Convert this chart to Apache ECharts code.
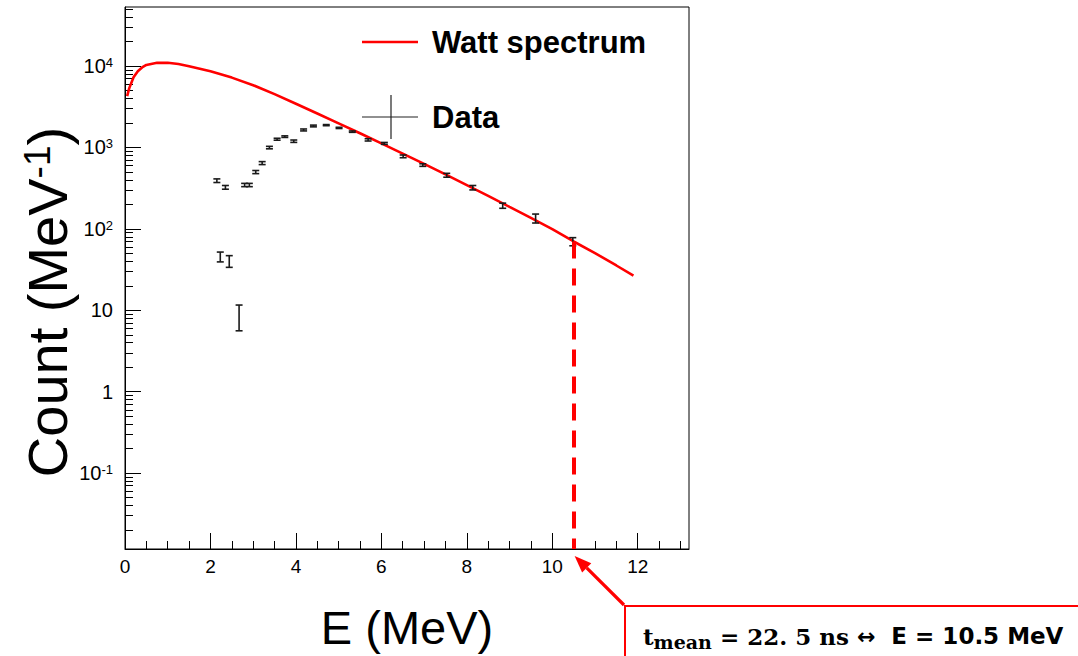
<!DOCTYPE html>
<html>
<head>
<meta charset="utf-8">
<script src="https://cdn.jsdelivr.net/npm/echarts@6/dist/echarts.min.js"></script>
<style>
  html, body { margin: 0; padding: 0; background: #ffffff; }
  #chart { width: 1078px; height: 656px; }
</style>
</head>
<body>
<div id="chart"></div>
<script>
// Watt fission spectrum (counts per MeV) sampled along the curve
const wattEnergy = [0.05, 0.1, 0.2, 0.3, 0.4, 0.5, 0.75, 1.0, 1.25, 1.5, 2.0, 2.5, 3.0, 3.5, 4.0, 4.5,
  5.0, 5.5, 6.0, 6.5, 7.0, 7.5, 8.0, 8.5, 9.0, 9.5, 10.0, 10.5, 11.0, 11.5, 11.9];
const wattCount = [4280, 5350, 7300, 8640, 9600, 10300, 10950, 10950, 10570, 9950, 8630, 7210, 5820, 4520, 3440, 2610,
  1977, 1493, 1122, 841, 628, 467, 345, 254, 186, 136.5, 99.5, 70, 50.4, 35.5, 26.6];

// Measured spectrum: energy (MeV), counts per MeV and 1-sigma error
const dataEnergy = [2.15, 2.35, 2.80, 2.91, 3.06, 3.21, 3.38, 3.56, 3.74, 3.95, 4.18, 4.41, 4.71, 5.01, 5.32, 5.69,
  6.07, 6.51, 6.97, 7.53, 8.14, 8.84, 9.61, 10.48, 2.23, 2.44, 2.67];
const dataCount = [391, 324, 346, 346, 499, 643, 997, 1262, 1358, 1194, 1641, 1836, 1880, 1738, 1564, 1240,
  1122, 778, 608, 456, 321, 193, 135, 70, 45.6, 40.3, 8.6];
const dataError = [20, 17, 16, 16, 22, 27, 35, 35, 30, 40, 45, 45, 30, 30, 30, 40,
  30, 30, 22, 25, 20, 14, 17, 8, 6.3, 6.6, 3.0];

// Axis ticks and labels
const xTickValues = [0, 2, 4, 6, 8, 10, 12];
const xMinorValues = [0.5, 1, 1.5, 2.5, 3, 3.5, 4.5, 5, 5.5, 6.5, 7, 7.5, 8.5, 9, 9.5, 10.5, 11, 11.5, 12.5, 13];
const yTickValues = [0.1, 1, 10, 100, 1000, 10000];
const yTickLabels = ['10{sup|-1}', '1', '10', '10{sup|2}', '10{sup|3}', '10{sup|4}'];
const yMinorMantissa = [2, 3, 4, 5, 6, 7, 8, 9];
const yDecades = [0.01, 0.1, 1, 10, 100, 1000, 10000];

// Marked energy (mean time of flight)
const markEnergy = 10.5;

const X_MIN = 0, X_MAX = 13.2;
const Y_MIN = 0.0117, Y_MAX = 53100;

const yMinorValues = [];
yDecades.forEach(d => yMinorMantissa.forEach(m => yMinorValues.push(m * d)));

const FONT = 'Liberation Sans, Arial, sans-serif';

const wattData = wattEnergy.map((e, i) => [e, wattCount[i]]);
const errData = dataEnergy.map((e, i) => [e, dataCount[i], dataCount[i] - dataError[i], dataCount[i] + dataError[i]]);
const markCount = wattCount[wattEnergy.indexOf(markEnergy)];

function yLabel(v) {
  for (let i = 0; i < yTickValues.length; i++) {
    if (Math.abs(v - yTickValues[i]) / yTickValues[i] < 1e-6) return yTickLabels[i];
  }
  return '';
}

function renderErrorBar(params, api) {
  const e = api.value(0);
  const lo = api.coord([e, api.value(2)]);
  const hi = api.coord([e, api.value(3)]);
  const cap = 3.5;
  const st = { stroke: '#1a1a1a', lineWidth: 1.6 };
  return {
    type: 'group',
    children: [
      { type: 'line', shape: { x1: lo[0], y1: lo[1], x2: hi[0], y2: hi[1] }, style: st },
      { type: 'line', shape: { x1: lo[0] - cap, y1: lo[1], x2: lo[0] + cap, y2: lo[1] }, style: st },
      { type: 'line', shape: { x1: hi[0] - cap, y1: hi[1], x2: hi[0] + cap, y2: hi[1] }, style: st }
    ]
  };
}

const chart = echarts.init(document.getElementById('chart'), null, { renderer: 'svg', width: 1078, height: 656 });

const option = {
  animation: false,
  backgroundColor: '#ffffff',
  grid: {
    left: 125, right: 389, top: 7, bottom: 107,
    show: true, borderColor: '#000', borderWidth: 1,
    containLabel: false, outerBoundsMode: 'none'
  },
  xAxis: [
    {
      type: 'value', min: X_MIN, max: X_MAX, position: 'bottom',
      axisLine: { show: true, onZero: false, lineStyle: { color: '#000', width: 1 } },
      axisTick: { show: true, inside: true, length: 16, customValues: xTickValues, lineStyle: { color: '#000', width: 1 } },
      axisLabel: { customValues: xTickValues, margin: 8, fontFamily: FONT, fontSize: 19, color: '#000' },
      splitLine: { show: false },
      name: 'E (MeV)', nameLocation: 'middle', nameGap: 55,
      nameTextStyle: { fontFamily: FONT, fontSize: 47, color: '#000' }
    },
    {
      type: 'value', min: X_MIN, max: X_MAX, position: 'bottom',
      axisLine: { show: false },
      axisTick: { show: true, inside: true, length: 8, customValues: xMinorValues, lineStyle: { color: '#000', width: 1 } },
      axisLabel: { show: false },
      splitLine: { show: false }
    }
  ],
  yAxis: [
    {
      type: 'log', logBase: 10, min: Y_MIN, max: Y_MAX, position: 'left',
      axisLine: { show: true, onZero: false, lineStyle: { color: '#000', width: 1 } },
      axisTick: { show: true, inside: true, length: 16, customValues: yTickValues, lineStyle: { color: '#000', width: 1 } },
      axisLabel: {
        customValues: yTickValues, margin: 12, fontFamily: FONT, fontSize: 20, color: '#000',
        formatter: yLabel,
        rich: {
          sup: { fontFamily: FONT, fontSize: 13, color: '#000', verticalAlign: 'top', lineHeight: 10 }
        }
      },
      splitLine: { show: false }
    },
    {
      type: 'log', logBase: 10, min: Y_MIN, max: Y_MAX, position: 'left',
      axisLine: { show: false },
      axisTick: { show: true, inside: true, length: 8, customValues: yMinorValues, lineStyle: { color: '#000', width: 1 } },
      axisLabel: { show: false },
      splitLine: { show: false }
    }
  ],
  series: [
    {
      name: 'Watt spectrum', type: 'line', xAxisIndex: 0, yAxisIndex: 0,
      data: wattData, showSymbol: false, symbol: 'none',
      smooth: false,
      lineStyle: { color: '#ff0000', width: 2.6 },
      z: 3,
      markLine: {
        silent: true, symbol: ['none', 'none'], label: { show: false },
        lineStyle: { color: '#ff0000', width: 4, type: [17, 10] },
        data: [[{ coord: [markEnergy, markCount] }, { coord: [markEnergy, Y_MIN] }]]
      }
    },
    {
      name: 'Data', type: 'custom', xAxisIndex: 0, yAxisIndex: 0,
      data: errData, encode: { x: 0, y: 1 },
      renderItem: renderErrorBar, z: 4
    }
  ],
  graphic: {
    elements: [
      // legend
      { id: 'legLine', type: 'line', shape: { x1: 362, y1: 42, x2: 418, y2: 42 }, style: { stroke: '#ff0000', lineWidth: 2.5 } },
      { id: 'legWatt', type: 'text', x: 432, y: 42, style: { text: 'Watt spectrum', font: 'bold 31px ' + FONT, fill: '#000', align: 'left', verticalAlign: 'middle', textAlign: 'left', textVerticalAlign: 'middle' } },
      { id: 'legCrossH', type: 'line', shape: { x1: 362, y1: 117, x2: 418, y2: 117 }, style: { stroke: '#222', lineWidth: 1.2 } },
      { id: 'legCrossV', type: 'line', shape: { x1: 391, y1: 95, x2: 391, y2: 139 }, style: { stroke: '#222', lineWidth: 1.2 } },
      { id: 'legData', type: 'text', x: 432, y: 117, style: { text: 'Data', font: 'bold 31px ' + FONT, fill: '#000', align: 'left', verticalAlign: 'middle', textAlign: 'left', textVerticalAlign: 'middle' } },
      // y axis title
      {
        id: 'yTitle', type: 'text', x: 47, y: 302, rotation: Math.PI / 2,
        style: {
          text: 'Count (MeV{sup|-1})', font: '56px ' + FONT, fill: '#000',
          align: 'center', verticalAlign: 'middle', textAlign: 'center', textVerticalAlign: 'middle',
          rich: {
            sup: { fontFamily: FONT, fontSize: 37, fill: '#000', color: '#000', verticalAlign: 'top', lineHeight: 34 }
          }
        }
      },
      // annotation box
      { id: 'boxRect', type: 'rect', shape: { x: 625, y: 606, width: 480, height: 80 }, style: { fill: 'none', stroke: '#ff0000', lineWidth: 2 } },
      {
        id: 'boxText', type: 'text', x: 643, y: 636,
        style: {
          text: '{t|t}{s|mean}{t| = 22. 5 ns }{a|\u2194}{b|  E = 10.5 MeV}',
          align: 'left', verticalAlign: 'middle', textAlign: 'left', textVerticalAlign: 'middle',
          rich: {
            t: { fontFamily: 'DejaVu Serif', fontWeight: 'bold', fontSize: 23, color: '#000', fill: '#000', lineHeight: 30 },
            s: { fontFamily: 'DejaVu Serif', fontWeight: 'bold', fontSize: 19, color: '#000', fill: '#000', lineHeight: 16, verticalAlign: 'bottom' },
            a: { fontFamily: 'DejaVu Sans', fontWeight: 'bold', fontSize: 22, color: '#000', fill: '#000', lineHeight: 30 },
            b: { fontFamily: 'DejaVu Sans', fontWeight: 'bold', fontSize: 23, color: '#000', fill: '#000', lineHeight: 30 }
          }
        }
      }
    ]
  }
};

chart.setOption(option);

// arrow from the annotation box to the marked energy on the axis
const tip0 = chart.convertToPixel({ gridIndex: 0 }, [markEnergy, Y_MIN]);
const tip = [tip0[0] + 1, tip0[1] + 7];
const tail = [624, 605];
const dx = tail[0] - tip[0], dy = tail[1] - tip[1];
const len = Math.sqrt(dx * dx + dy * dy);
const ux = dx / len, uy = dy / len;
const headLen = 17, headHalf = 6.5;
const base = [tip[0] + ux * headLen, tip[1] + uy * headLen];
chart.setOption({
  graphic: {
    elements: [
      { id: 'arrowLine', type: 'line', shape: { x1: base[0], y1: base[1], x2: tail[0], y2: tail[1] }, style: { stroke: '#ff0000', lineWidth: 3.2 } },
      {
        id: 'arrowHead', type: 'polygon',
        shape: { points: [tip, [base[0] - uy * headHalf, base[1] + ux * headHalf], [base[0] + uy * headHalf, base[1] - ux * headHalf]] },
        style: { fill: '#ff0000' }
      }
    ]
  }
});
</script>
</body>
</html>
